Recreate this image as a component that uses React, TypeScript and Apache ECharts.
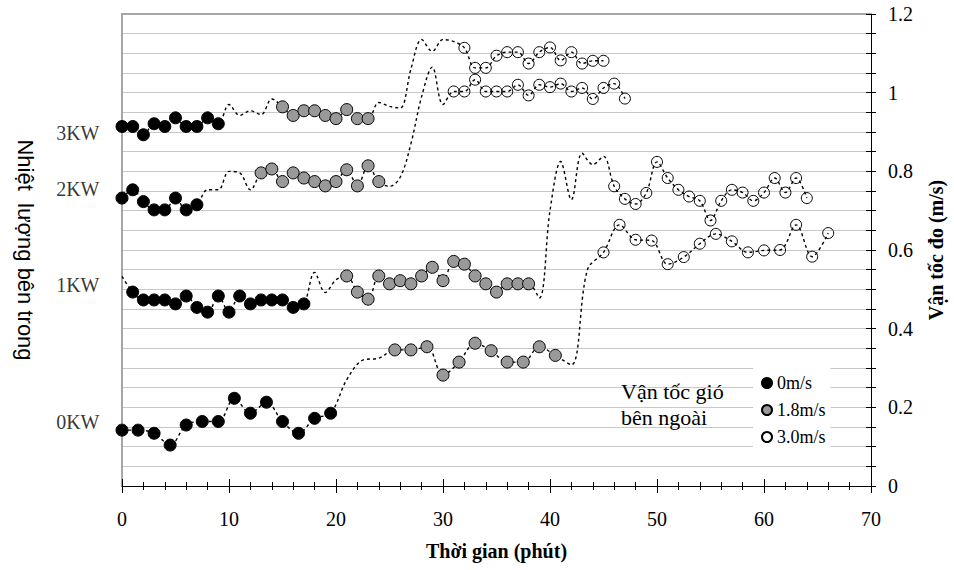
import React, { useEffect, useRef } from 'react';
import * as echarts from 'echarts';

// ---- data (minutes, measured velocity m/s, outside wind: b=0m/s, g=1.8m/s, w=3.0m/s, -=no marker) ----
const windLabels = ['0m/s', '1.8m/s', '3.0m/s'];

const time3KW = [0, 1, 2, 3, 4, 5, 6, 7, 8, 9, 10, 11, 12, 13, 14, 15, 16, 17, 18, 19, 20, 21, 22, 23, 24, 25, 26, 27, 28, 29, 30, 31, 32, 33, 34, 35, 36, 37, 38, 39, 40, 41, 42, 43, 44, 45];
const val3KW = [0.914, 0.914, 0.893, 0.921, 0.914, 0.936, 0.914, 0.914, 0.936, 0.921,
  0.970, 0.942, 0.954, 0.944, 0.984,
  0.964, 0.942, 0.954, 0.954, 0.942, 0.934, 0.957, 0.934, 0.934,
  0.975, 0.965, 0.961, 1.060, 1.135, 1.105, 1.135, 1.130,
  1.114, 1.063, 1.063, 1.094, 1.103, 1.103, 1.074, 1.103, 1.115, 1.082, 1.103, 1.074, 1.081, 1.081];
const wind3KW = 'bbbbbbbbbb' + '-----' + 'ggggggggg' + '--------' + 'wwwwwwwwwwwwww';

const time2KW = [0, 1, 2, 3, 4, 5, 6, 7, 8, 9, 10, 11, 12, 13, 14, 15, 16, 17, 18, 19, 20, 21, 22, 23, 24, 25, 26, 27, 28, 29, 30, 31, 32, 33, 34, 35, 36, 37, 38, 39, 40, 41, 42, 43, 44, 45, 46, 47];
const val2KW = [0.732, 0.753, 0.723, 0.702, 0.702, 0.732, 0.702, 0.715,
  0.753, 0.753, 0.800, 0.796, 0.753,
  0.796, 0.806, 0.774, 0.796, 0.783, 0.774, 0.763, 0.774, 0.804, 0.763, 0.814, 0.774,
  0.762, 0.785, 0.870, 0.990, 1.065, 0.970,
  1.003, 1.003, 1.033, 1.003, 1.003, 1.003, 1.020, 0.993, 1.020, 1.014, 1.023, 1.003, 1.012, 0.984, 1.012, 1.023, 0.985];
const wind2KW = 'bbbbbbbb' + '-----' + 'gggggggggggg' + '------' + 'wwwwwwwwwwwwwwwww';

const time1KW = [0, 1, 2, 3, 4, 5, 6, 7, 8, 9, 10, 11, 12, 13, 14, 15, 16, 17, 18, 19, 20, 21, 22, 23, 24, 25, 26, 27, 28, 29, 30, 31, 32, 33, 34, 35, 36, 37, 38, 39, 40, 41, 42, 43, 44, 45, 46, 47, 48, 49, 50, 51, 52, 53, 54, 55, 56, 57, 58, 59, 60, 61, 62, 63, 64];
const val1KW = [0.533,
  0.493, 0.473, 0.473, 0.473, 0.463, 0.483, 0.454, 0.442, 0.483, 0.442, 0.483, 0.463, 0.473, 0.473, 0.473, 0.454, 0.463,
  0.543, 0.492, 0.524,
  0.534, 0.493, 0.475, 0.534, 0.514, 0.522, 0.514, 0.534, 0.556, 0.522, 0.571, 0.564, 0.534, 0.514, 0.493, 0.514, 0.514, 0.514,
  0.478, 0.700, 0.825, 0.728, 0.846, 0.817, 0.838,
  0.762, 0.730, 0.717, 0.745, 0.824, 0.783, 0.753, 0.736, 0.725, 0.675, 0.725, 0.753, 0.746, 0.725, 0.746, 0.783, 0.746, 0.783, 0.732];
const wind1KW = '-' + 'bbbbbbbbbbbbbbbbb' + '---' + 'gggggggggggggggggg' + '-------' + 'wwwwwwwwwwwwwwwwwww';

const time0KW = [0, 1.5, 3, 4.5, 6, 7.5, 9, 10.5, 12, 13.5, 15, 16.5, 18, 19.5, 21, 22.5, 24, 25.5, 27, 28.5, 30, 31.5, 33, 34.5, 36, 37.5, 39, 40.5, 42, 43.5, 45, 46.5, 48, 49.5, 51, 52.5, 54, 55.5, 57, 58.5, 60, 61.5, 63, 64.5, 66];
const val0KW = [0.142, 0.142, 0.134, 0.104, 0.155, 0.164, 0.164, 0.223, 0.185, 0.213, 0.164, 0.134, 0.172, 0.185,
  0.270, 0.320, 0.325,
  0.346, 0.346, 0.354, 0.282, 0.315, 0.363, 0.344, 0.315, 0.315, 0.354, 0.332,
  0.308, 0.550,
  0.594, 0.664, 0.626, 0.624, 0.564, 0.582, 0.616, 0.641, 0.622, 0.594, 0.599, 0.600, 0.664, 0.583, 0.643];
const wind0KW = 'bbbbbbbbbbbbbb' + '---' + 'ggggggggggg' + '--' + 'wwwwwwwwwwwwwww';

const kwNames = ['3KW', '2KW', '1KW', '0KW'];
const kwLabelY = [0.898, 0.756, 0.511, 0.163];

const xTicks = { min: 0, max: 70, interval: 10 };
const yTicks = { min: 0, max: 1.2, interval: 0.2 };

const noteText = 'Vận tốc gió\nbên ngoài';

// ---- styling ----
const serif = '"Liberation Serif", "Times New Roman", serif';
const sans = '"Liberation Sans", Arial, sans-serif';

function buildOption() {
  const traces = [
    { t: time3KW, v: val3KW, w: wind3KW },
    { t: time2KW, v: val2KW, w: wind2KW },
    { t: time1KW, v: val1KW, w: wind1KW },
    { t: time0KW, v: val0KW, w: wind0KW },
  ];
  const lineSeries = traces.map((tr) => ({
    type: 'line',
    data: tr.t.map((x, i) => [x, tr.v[i]]),
    showSymbol: false,
    symbol: 'none',
    smooth: 0.35,
    clip: false,
    silent: true,
    z: 2,
    lineStyle: { color: '#000', width: 1.4, type: [3, 3] },
    emphasis: { disabled: true },
  }));
  const pts: Record<string, number[][]> = { b: [], g: [], w: [] };
  traces.forEach((tr) =>
    tr.t.forEach((x, i) => {
      const c = tr.w[i];
      if (c !== '-') pts[c].push([x, tr.v[i]]);
    })
  );
  const markerStyles = [
    { key: 'b', size: 12, color: '#000000' },
    { key: 'g', size: 12, color: '#999999' },
    { key: 'w', size: 11, color: 'rgba(255,255,255,0)' },
  ];
  const scatterSeries = markerStyles.map((m, i) => ({
    type: 'scatter',
    name: windLabels[i],
    data: pts[m.key],
    symbol: 'circle',
    symbolSize: m.size,
    clip: false,
    silent: true,
    z: 3,
    itemStyle: { color: m.color, borderColor: '#000', borderWidth: 1, opacity: 1 },
    emphasis: { disabled: true },
  }));
  const labelSeries = {
    type: 'scatter',
    data: kwNames.map((n, i) => ({ name: n, value: [0, kwLabelY[i]] })),
    symbolSize: 1,
    clip: false,
    silent: true,
    z: 1,
    itemStyle: { color: 'rgba(0,0,0,0)' },
    label: {
      show: true,
      position: 'left',
      distance: 22,
      formatter: '{b}',
      fontFamily: serif,
      fontSize: 20,
      color: '#000',
    },
    emphasis: { disabled: true },
  };

  const black = { color: '#000', width: 1 };
  return {
    animation: false,
    backgroundColor: '#fff',
    grid: { left: 122, right: 79, top: 14, bottom: 84 },
    legend: {
      data: windLabels,
      orient: 'vertical',
      left: 753,
      top: 368,
      backgroundColor: '#fff',
      padding: [6, 5, 6, 8],
      itemGap: 9,
      itemWidth: 10,
      itemHeight: 10,
      icon: 'circle',
      selectedMode: false,
      textStyle: { fontFamily: serif, fontSize: 18, color: '#000' },
    },
    graphic: [
      {
        type: 'text',
        left: 621,
        top: 378,
        z: 10,
        style: { text: noteText, fontFamily: serif, fontSize: 22, lineHeight: 26, fill: '#000' },
      },
    ],
    xAxis: [
      {
        type: 'value',
        position: 'bottom',
        ...xTicks,
        axisLine: { show: true, onZero: false, lineStyle: black },
        axisTick: { show: true, length: 7, lineStyle: black },
        minorTick: { show: true, splitNumber: 5, length: 4, lineStyle: black },
        axisLabel: { margin: 23, fontFamily: serif, fontSize: 20, color: '#000' },
        splitLine: { show: false },
        name: 'Thời gian (phút)',
        nameLocation: 'middle',
        nameGap: 55,
        nameTextStyle: { fontFamily: serif, fontSize: 20, fontWeight: 'bold', color: '#000' },
      },
      {
        type: 'value',
        position: 'bottom',
        ...xTicks,
        axisLine: { show: false, onZero: false },
        axisTick: { show: true, inside: true, length: 7, lineStyle: black },
        minorTick: { show: true, splitNumber: 5, length: 4, lineStyle: black },
        axisLabel: { show: false },
        splitLine: { show: false },
      },
      {
        type: 'value',
        position: 'top',
        ...xTicks,
        axisLine: { show: true, onZero: false, lineStyle: { color: '#a6a6a6', width: 2 } },
        axisTick: { show: false },
        axisLabel: { show: false },
        splitLine: { show: false },
      },
    ],
    yAxis: [
      {
        type: 'value',
        position: 'right',
        ...yTicks,
        axisLine: { show: true, onZero: false, lineStyle: black },
        axisTick: { show: true, length: 5, lineStyle: black },
        minorTick: { show: true, splitNumber: 4, length: 5, lineStyle: black },
        axisLabel: { margin: 17, fontFamily: serif, fontSize: 20, color: '#000' },
        splitLine: { show: true, lineStyle: { color: '#c8c8c8', width: 1 } },
        minorSplitLine: { show: true, lineStyle: { color: '#c8c8c8', width: 1 } },
        name: 'Vận tốc đo (m/s)',
        nameLocation: 'middle',
        nameGap: 55,
        nameRotate: 90,
        nameTextStyle: { fontFamily: serif, fontSize: 20, fontWeight: 'bold', color: '#000' },
      },
      {
        type: 'value',
        position: 'right',
        ...yTicks,
        axisLine: { show: false, onZero: false },
        axisTick: { show: true, inside: true, length: 5, lineStyle: black },
        minorTick: { show: true, splitNumber: 4, length: 5, lineStyle: black },
        axisLabel: { show: false },
        splitLine: { show: false },
      },
      {
        type: 'value',
        position: 'left',
        ...yTicks,
        axisLine: { show: true, onZero: false, lineStyle: { color: '#a6a6a6', width: 2 } },
        axisTick: { show: false },
        axisLabel: { show: false },
        splitLine: { show: false },
        name: 'Nhiệt  lượng bên trong',
        nameLocation: 'middle',
        nameGap: 86,
        nameRotate: -90,
        nameTextStyle: { fontFamily: sans, fontSize: 22, color: '#000' },
      },
    ],
    series: [...lineSeries, ...scatterSeries, labelSeries],
  };
}

export default function App() {
  const ref = useRef<HTMLDivElement>(null);
  useEffect(() => {
    if (!ref.current) return;
    const chart = echarts.init(ref.current, undefined, { renderer: 'svg' });
    chart.setOption(buildOption() as any);
    return () => chart.dispose();
  }, []);
  return (
    <div
      ref={ref}
      style={{ position: 'fixed', left: 0, top: 0, width: 954, height: 570, background: '#fff' }}
    />
  );
}
